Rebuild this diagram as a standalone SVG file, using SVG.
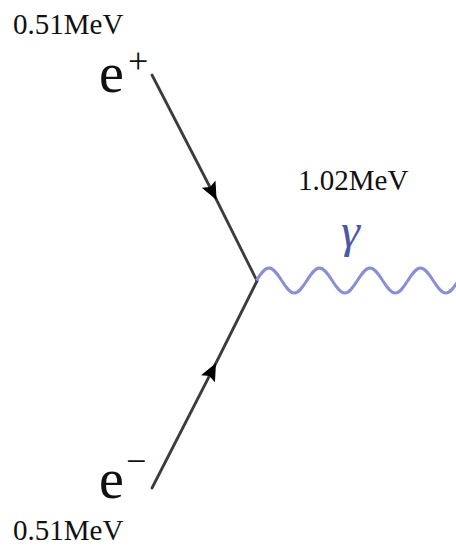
<svg xmlns="http://www.w3.org/2000/svg" width="456" height="546" viewBox="0 0 456 546">
<defs>
<style>
.lbl{font-family:"Liberation Serif","Times New Roman",serif;fill:#111;}
.e{font-size:56px;}
.mev{font-size:29px;}
.sup{font-size:36px;}
.fermion{fill:none;stroke:#3c3c3c;stroke-width:2.8;stroke-linecap:round;stroke-linejoin:round;marker-mid:url(#arr);}
.photon{fill:none;stroke:#8a8fd4;stroke-width:3;}
</style>
<marker id="arr" markerUnits="userSpaceOnUse" markerWidth="20" markerHeight="16" viewBox="0 0 18 14" refX="14" refY="7" orient="auto">
<path d="M0,0 L16,7 L0,14 L3,7 z" fill="#000"/>
</marker>
</defs>
<g id="connectors">
<path id="positron" class="fermion" d="M152,75 L215.6,198 L257,281"/>
<path id="electron" class="fermion" d="M152,488 L215,365 L257,281"/>
<path id="photon" class="photon" d="M256.4,280.5 C260.5,274.1 264.4,268 269,268 S277.5,274.1 281.65,280.5 S289.7,293 294.3,293 S302.8,286.9 306.9,280.5 S314.9,268 319.5,268 S328,274.1 332.15,280.5 S340.2,293 344.8,293 S353.3,286.9 357.4,280.5 S365.4,268 370,268 S378.5,274.1 382.65,280.5 S390.7,293 395.3,293 S403.8,286.9 407.9,280.5 S415.9,268 420.5,268 S429,274.1 433.15,280.5 S441.2,293 445.8,293 S454.3,286.9 458.4,280.5"/>
</g>
<g id="node-positron">
<text class="lbl mev" x="13" y="34">0.51MeV</text>
<text class="lbl e" x="99" y="92">e</text>
<text class="lbl sup" x="128" y="73">+</text>
</g>
<g id="node-electron">
<text class="lbl e" x="99" y="498">e</text>
<text class="lbl sup" x="126" y="473">−</text>
<text class="lbl mev" x="13" y="540">0.51MeV</text>
</g>
<g id="node-photon">
<text class="lbl mev" x="298" y="190">1.02MeV</text>
<text class="lbl" x="341" y="247" style="font-size:48px;font-style:italic;fill:#4c57a8">γ</text>
</g>
</svg>
